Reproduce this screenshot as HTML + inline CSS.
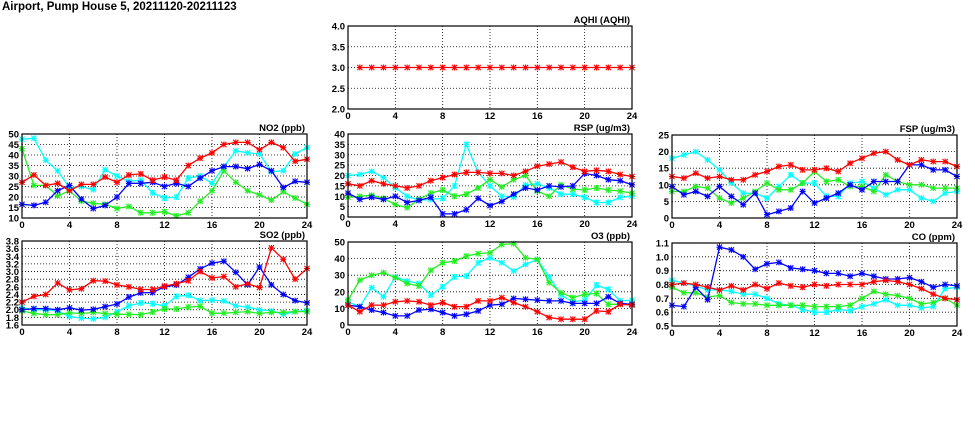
<!DOCTYPE html>
<html><head><meta charset="utf-8"><style>
html,body{margin:0;padding:0;background:#fff;width:975px;height:447px;overflow:hidden}
svg{display:block}
text{font-family:"Liberation Sans",sans-serif;font-weight:bold;font-size:9.5px;fill:#000}
</style></head><body>
<svg id="s" width="975" height="447" xmlns="http://www.w3.org/2000/svg">
<text x="2" y="10" style="font-size:11.5px">Airport, Pump House 5, 20211120-20211123</text>
</svg>
<script>
const S=document.getElementById('s');let out='';
const R='#ff0000',C='#00ffff',B='#0000ff',G='#22ee22';
function panel(x0,y0,w,h,ymin,ymax,step,dec,title,series,start){
  const X=t=>x0+t*w/24, Y=v=>y0+h-(v-ymin)/(ymax-ymin)*h;
  let n=Math.round((ymax-ymin)/step);
  for(let i=0;i<=n;i++){const v=ymin+i*step,y=Y(v);
    if(i>0&&i<n)out+=`<line x1="${x0}" y1="${y}" x2="${x0+w}" y2="${y}" stroke="#000" stroke-width="0.8" stroke-dasharray="1,2"/>`;
    out+=`<text x="${x0-3}" y="${y+3.5}" text-anchor="end">${v.toFixed(dec)}</text>`;}
  for(let t=0;t<=24;t+=4){const x=X(t);
    if(t>0&&t<24)out+=`<line x1="${x}" y1="${y0}" x2="${x}" y2="${y0+h}" stroke="#000" stroke-width="0.8" stroke-dasharray="1,2"/>`;
    out+=`<text x="${x}" y="${y0+h+10}" text-anchor="middle">${t}</text>`;}
  out+=`<text x="${x0+w-2}" y="${y0-3}" text-anchor="end">${title}</text>`;
  for(const [col,d] of series){let s=start||0;let pts=d.map((v,i)=>X(i+s).toFixed(1)+','+Y(v).toFixed(1)).join(' ');
    out+=`<polyline points="${pts}" fill="none" stroke="${col}" stroke-width="1.3"/>`;
    d.forEach((v,i)=>{const x=X(i+s),y=Y(v);
      out+=`<path d="M${x-2.6},${y-2.6}L${x+2.6},${y+2.6}M${x-2.6},${y+2.6}L${x+2.6},${y-2.6}M${x-3},${y}H${x+3}M${x},${y-3}V${y+3}" stroke="${col}" stroke-width="1.1"/>`;});}
  out+=`<rect x="${x0}" y="${y0}" width="${w}" height="${h}" fill="none" stroke="#000" stroke-width="1.2"/>`;
}
panel(348,26,284,83,2,4,0.5,1,'AQHI (AQHI)',[[R,Array(24).fill(3)]],1);
panel(22,134,285,84,10,50,5,0,'NO2 (ppb)',[
[C,[47.5,48,37.5,32.5,24.5,25,23.5,33,30,27.5,28,22,19.5,20,29,30,26.5,34.5,42,41,40.5,32,32.5,40.5,43.5]],
[G,[43,25.5,25.5,20.5,23,18,17,16.5,14.5,15.5,12.5,12.5,13,11,12.5,18,23,32.5,27,23,21,18.5,22.5,19.5,16.5]],
[B,[16.5,16,17.5,23,25.5,19,14.5,16,20,26.5,26.5,27,25,26.5,25,29,32.5,34.5,34.5,33.5,35.5,32.5,24.5,27.5,27]],
[R,[27,30.5,25.5,26.5,23,26,26,29.5,27,30.5,31,28,29.5,28,35,38.5,41,45,46,46,42.5,46,43.5,37,38]]]);
panel(348,134,284,83,0,40,5,0,'RSP (ug/m3)',[
[C,[20,20.5,22,19,14,10,8,8.5,9,15,35,21.5,15,10,9.5,15.5,16,14,11,11,9.5,7,7,9.5,10]],
[G,[9.5,10,10.5,9,6,4.5,8.5,11.5,13,10,11,14,18,14.5,18,20,12.5,10,15.5,13.5,13,14,13,12.5,11.5]],
[B,[11.5,8.5,9.5,8.5,10,7,8,9.5,1.5,1.5,3.5,9,5.5,7.5,11,14,13,15,14.5,15,21,20,18,17.5,15.5]],
[R,[16,15,17.5,16,15,14,15,17.5,19,20.5,21.5,21.5,21,21,20,22,24.5,25.5,26.5,24,22,22.5,22,20.5,19.5]]]);
panel(672,135,285,83,0,25,5,0,'FSP (ug/m3)',[
[C,[18,19,20,17.5,14.5,10.5,7.5,7.5,6,9.5,13,10.5,10.5,6.5,6.5,10.5,11,9,7,8.5,8.5,6,5,7.5,8]],
[G,[8,8,9.5,9,6,4.5,6,8,10.5,8.5,8.5,10.5,14,11,11.5,9.5,9.5,8,13,11,10,10,9,9,9]],
[B,[9.5,7,8,6.5,9.5,6.5,4,7.5,1,2,3,8,4.5,6,7.5,10,8.5,11,11,11,16,16,14.5,14.5,12.5]],
[R,[12.5,12,13.5,12,12.5,11.5,11.5,13,14,15.5,16,14.5,14.5,15,14,16.5,18,19.5,20,17.5,16,17.5,17,17,15.5]]]);
panel(22,241,285,84,1.6,3.8,0.2,1,'SO2 (ppb)',[
[C,[2.05,2.0,2.0,1.97,1.82,1.78,1.76,1.8,1.95,2.1,2.18,2.16,2.1,2.35,2.38,2.24,2.25,2.23,2.1,2.07,2.0,1.97,1.88,1.95,1.98]],
[G,[1.97,1.9,1.87,1.87,1.92,1.9,1.93,1.9,1.88,1.88,1.87,1.94,2.02,2.02,2.07,2.09,1.91,1.91,1.93,1.95,1.9,1.93,1.93,1.95,1.95]],
[B,[2.0,2.03,2.03,2.0,2.05,1.99,2.01,2.08,2.15,2.33,2.44,2.45,2.6,2.65,2.85,3.07,3.22,3.27,2.98,2.65,3.12,2.65,2.4,2.24,2.18]],
[R,[2.2,2.35,2.4,2.7,2.52,2.55,2.76,2.75,2.65,2.6,2.53,2.53,2.62,2.68,2.76,3.0,2.83,2.87,2.6,2.68,2.58,3.62,3.32,2.8,3.08]]]);
panel(348,242,284,83,0,50,10,0,'O3 (ppb)',[
[C,[14,11,22.5,17,29,26.5,25,18,23,29,29.5,37.5,40.5,37.5,32.5,36.5,39.5,29,18,14,15,24,21.5,14.5,15]],
[G,[15,27,30,31.5,28.5,25,23.5,33,37.5,38.5,41.5,43,43.5,48.5,49,40.5,39.5,25.5,19.5,16.5,18.5,19,12.5,12.5,12.5]],
[B,[12,11,9,7.5,5.5,5.5,9,9.5,7.5,5.5,6.5,8.5,12,12.5,16,15.5,15,14.5,14.5,13,13,13,17,13,12.5]],
[R,[12,8,12,12,14,14.5,14,12,13.5,11,11,14.5,14.5,16.5,13.5,11,8,4.5,3.5,3.5,3.5,8.5,8,12.5,12]]]);
panel(672,243,285,83,0.5,1.1,0.1,1,'CO (ppm)',[
[C,[0.83,0.81,0.79,0.76,0.76,0.75,0.73,0.73,0.7,0.66,0.65,0.62,0.6,0.6,0.62,0.61,0.64,0.66,0.69,0.65,0.65,0.63,0.64,0.77,0.78]],
[G,[0.78,0.74,0.74,0.71,0.72,0.67,0.66,0.66,0.65,0.65,0.65,0.65,0.64,0.64,0.64,0.65,0.7,0.75,0.73,0.72,0.7,0.66,0.67,0.7,0.65]],
[B,[0.65,0.64,0.78,0.69,1.07,1.05,1.0,0.91,0.95,0.96,0.92,0.91,0.9,0.88,0.88,0.86,0.88,0.86,0.84,0.84,0.85,0.82,0.78,0.8,0.79]],
[R,[0.8,0.81,0.8,0.78,0.76,0.79,0.76,0.8,0.77,0.81,0.79,0.78,0.8,0.79,0.8,0.8,0.8,0.82,0.83,0.82,0.8,0.77,0.73,0.7,0.69]]]);
S.insertAdjacentHTML('beforeend',out);
</script>
</body></html>
